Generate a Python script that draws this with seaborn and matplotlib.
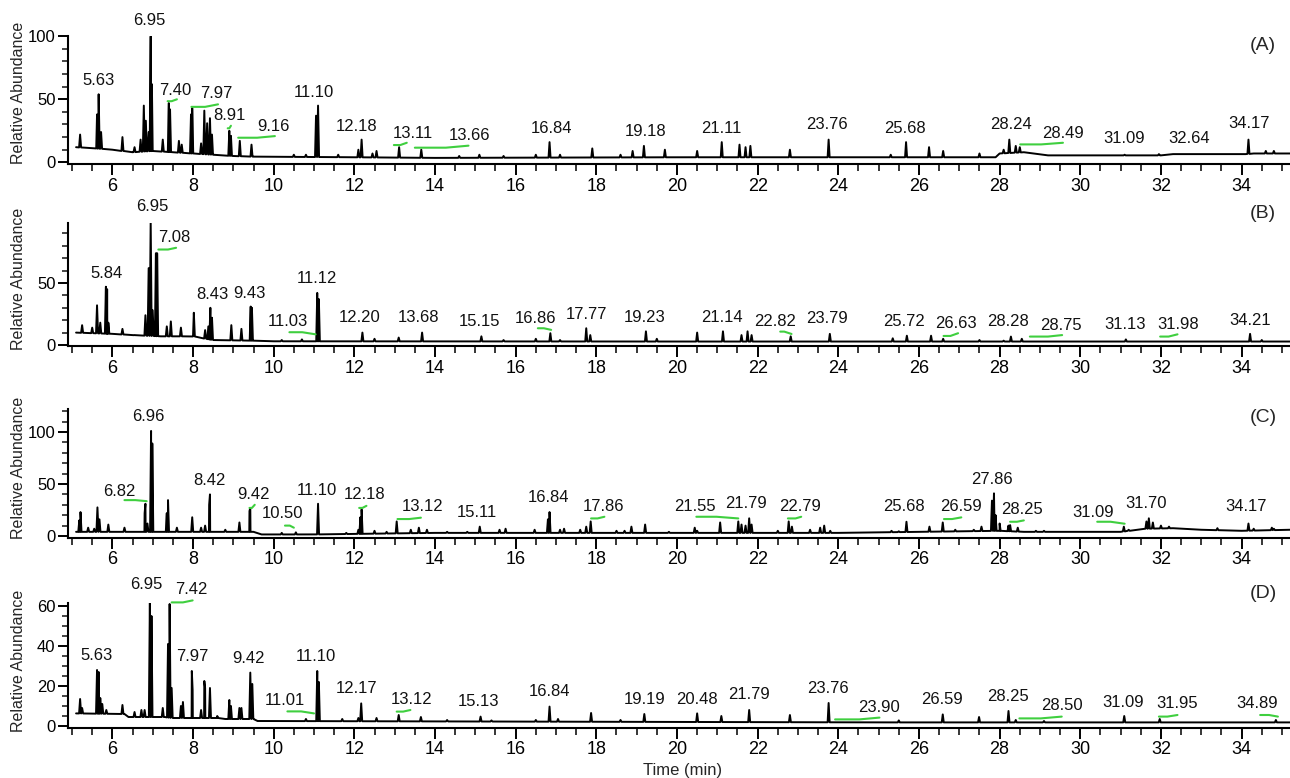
import numpy as np
import pandas as pd
import seaborn as sns
import matplotlib.pyplot as plt
from matplotlib.ticker import MultipleLocator

sns.set_theme(style="ticks")
plt.rcParams['font.family'] = ['Liberation Sans', 'DejaVu Sans']

# ---------------- (A) ----------------
a_base_t = [5.1, 5.6, 6.0, 6.5, 7.0, 7.5, 8.5, 9.0, 9.5, 12.0, 14.0, 20.0, 24.0, 27.9, 28.0, 28.6, 29.2, 32.0, 32.3, 34.1, 34.3, 35.2]
a_base_y = [12, 11, 10, 8, 9, 8, 6, 5, 4.5, 4, 3.5, 4, 4, 4, 7, 8, 5.5, 5.5, 6.5, 6.5, 7, 7]
a_peak_t = [5.2, 5.62, 5.66, 5.72, 6.25, 6.55, 6.7, 6.78, 6.83, 6.9, 6.95, 6.98, 7.25, 7.40, 7.43,
            7.65, 7.72, 7.95, 7.98, 8.2, 8.28, 8.35, 8.42, 8.47, 8.90, 8.94, 9.16, 9.45, 10.5, 10.8,
            11.05, 11.10, 11.6, 12.1, 12.18, 12.45, 12.55, 13.11, 13.66, 14.6, 15.1, 15.7, 16.5, 16.84,
            17.1, 17.9, 18.6, 18.9, 19.18, 19.7, 20.5, 21.11, 21.55, 21.7, 21.82, 22.8, 23.76, 25.3,
            25.68, 26.25, 26.6, 27.5, 28.1, 28.24, 28.4, 28.5, 31.1, 31.95, 34.17, 34.6, 34.8]
a_peak_h = [22, 38, 54, 24, 20, 12, 18, 45, 33, 24, 100, 62, 18, 47, 42,
            17, 14, 38, 43, 15, 41, 31, 35, 22, 25, 21, 17, 14, 6, 6,
            37, 45, 6, 10, 18, 7, 9, 12, 10, 5, 6, 5, 6, 16,
            6, 11, 6, 9, 13, 10, 9, 16, 14, 12, 13, 10, 18, 6,
            16, 12, 9, 7, 10, 18, 13, 12, 6, 6.5, 18, 9, 9]
a_labels = ['5.63', '6.95', '7.40', '7.97', '8.91', '9.16', '11.10', '12.18', '13.11', '13.66', '16.84',
            '19.18', '21.11', '23.76', '25.68', '28.24', '28.49', '31.09', '32.64', '34.17']
a_lab_x = [5.65, 6.91, 7.57, 8.58, 8.9, 9.99, 11.0, 12.06, 13.44, 14.86, 16.88,
           19.22, 21.11, 23.73, 25.65, 28.28, 29.57, 31.08, 32.69, 34.19]
a_lab_y = [58, 106, 50.5, 48, 30, 21.6, 49, 21.6, 16.3, 14.5, 20,
           18, 20, 23, 20, 23, 16.3, 12, 12, 24]
a_green = [(7.37, 7.47, 7.6, 48.5, 50), (7.96, 8.3, 8.62, 44, 46), (8.86, 8.9, 8.94, 27, 29),
           (9.12, 9.59, 10.03, 19.5, 20.8), (12.98, 13.14, 13.3, 13.7, 15.5),
           (13.5, 14.27, 14.83, 11.6, 13.2), (28.51, 29.03, 29.57, 14.2, 15.5)]

# ---------------- (B) ----------------
b_base_t = [5.1, 6.0, 6.5, 7.2, 8.0, 8.5, 9.5, 10.0, 20.0, 35.2]
b_base_y = [10, 9, 8, 7, 7, 4, 3.5, 3, 2.8, 2.8]
b_peak_t = [5.25, 5.5, 5.62, 5.7, 5.84, 5.87, 5.9, 6.25, 6.55, 6.82, 6.9, 6.95, 7.0, 7.08, 7.11,
            7.35, 7.45, 7.7, 8.02, 8.3, 8.38, 8.43, 8.47, 8.95, 9.2, 9.43, 9.46, 10.2, 10.7, 11.08,
            11.12, 12.2, 12.5, 13.1, 13.68, 15.15, 15.7, 16.5, 16.86, 17.1, 17.75, 17.85, 19.23, 19.5,
            20.5, 21.14, 21.6, 21.75, 21.85, 22.82, 23.79, 25.35, 25.7, 26.3, 26.6, 27.5, 28.1, 28.28,
            28.55, 31.13, 34.21, 34.5]
b_peak_h = [16, 14, 32, 18, 47, 45, 18, 13, 8, 24, 62, 100, 28, 74, 74,
            15, 19, 14, 26, 12, 15, 30, 22, 16, 13, 31, 30, 4, 4.5, 42,
            37, 10, 5, 6, 10, 7, 4, 5, 9.5, 4, 13.5, 8, 11, 5,
            10, 11, 8, 11, 8, 7, 9, 5.4, 7.5, 7.5, 5, 4, 3.5, 6.8,
            5, 4.5, 9, 4]
b_labels = ['5.84', '6.95', '7.08', '8.43', '9.43', '11.03', '11.12', '12.20', '13.68', '15.15', '16.86',
            '17.77', '19.23', '21.14', '22.82', '23.79', '25.72', '26.63', '28.28', '28.75', '31.13',
            '31.98', '34.21']
b_lab_x = [5.86, 6.98, 7.53, 8.48, 9.39, 10.34, 11.08, 12.12, 13.6, 15.1, 16.49,
           17.75, 19.21, 21.12, 22.43, 23.73, 25.63, 26.92, 28.21, 29.51, 31.1,
           32.43, 34.2]
b_lab_y = [51, 105, 80, 34, 34.6, 12, 47, 15.4, 15.4, 12, 14.3,
           17.6, 15.4, 15.4, 12, 14.3, 12, 10.8, 12, 9, 9.5,
           9.5, 12.7]
b_green = [(7.14, 7.38, 7.58, 77, 78.4), (10.39, 10.71, 11.04, 10.3, 8.6),
           (16.55, 16.7, 16.88, 13.5, 12.2), (22.56, 22.66, 22.84, 10.8, 8.9),
           (26.61, 26.78, 26.97, 7.3, 9.5), (28.75, 29.2, 29.55, 6.8, 8),
           (31.98, 32.19, 32.41, 6.8, 8.6)]

# ---------------- (C) ----------------
c_base_t = [5.1, 9.5, 9.7, 11.0, 12.0, 14.0, 24.0, 28.0, 28.6, 31.0, 31.6, 32.3, 33.0, 34.0, 35.2]
c_base_y = [4, 4, 1.5, 1.5, 2, 3, 3, 5, 4, 4, 7, 7.5, 6, 5, 6]
c_peak_t = [5.18, 5.21, 5.4, 5.55, 5.63, 5.68, 5.9, 6.3, 6.8, 6.82, 6.87, 6.96, 6.99, 7.35, 7.38,
            7.6, 7.98, 8.2, 8.3, 8.4, 8.42, 8.8, 9.15, 9.4, 9.42, 10.2, 10.55, 11.10, 11.8, 12.1,
            12.15, 12.18, 12.5, 12.8, 13.05, 13.4, 13.6, 13.8, 14.3, 14.8, 15.11, 15.6, 15.75, 16.47,
            16.8, 16.84, 17.1, 17.2, 17.6, 17.75, 17.86, 18.5, 18.7, 18.87, 19.21, 19.8, 20.44, 20.5,
            21.07, 21.52, 21.6, 21.7, 21.79, 21.85, 22.5, 22.77, 22.85, 23.3, 23.55, 23.65, 23.8,
            25.32, 25.5, 25.69, 26.26, 26.59, 26.9, 27.36, 27.55, 27.81, 27.86, 27.9, 28.0, 28.22,
            28.26, 28.45, 28.9, 29.1, 31.08, 31.2, 31.64, 31.7, 31.8, 32.0, 32.2, 33.4, 34.17, 34.3,
            34.75, 34.8]
c_peak_h = [15, 23, 8, 7, 27.5, 16, 11, 8, 22, 31, 12, 101, 89, 22, 34.5,
            8, 18, 8, 10, 30, 40, 6, 13, 24, 27, 3, 3.5, 31, 3, 6,
            18, 25.5, 5, 4, 14, 6, 8, 6, 4, 4, 9, 6, 7, 6,
            16, 23, 6, 7, 6, 9, 14, 5, 5, 9, 11, 4, 8, 5,
            13, 14, 11, 10, 17, 11, 5, 14, 9, 6, 8, 10, 5,
            5, 4.5, 13.7, 9, 13, 6, 6, 9, 34, 41, 20, 12, 10,
            10.5, 8, 5, 5, 9, 6, 14, 17, 13, 10, 9, 7.5, 12, 7,
            8, 7]
c_labels = ['6.82', '6.96', '8.42', '9.42', '10.50', '11.10', '12.18', '13.12', '15.11', '16.84', '17.86',
            '21.55', '21.79', '22.79', '25.68', '26.59', '27.86', '28.25', '31.09', '31.70', '34.17']
c_lab_x = [6.18, 6.89, 8.41, 9.5, 10.22, 11.07, 12.25, 13.68, 15.05, 16.81, 18.18,
           20.44, 21.71, 23.06, 25.63, 27.03, 27.81, 28.55, 30.32, 31.64, 34.1]
c_lab_y = [35, 107, 45, 32, 13, 35.5, 32, 20, 14.7, 29, 20,
           20, 22.7, 20, 20, 20, 46, 17, 14.7, 22.7, 20]
c_green = [(6.3, 6.57, 6.85, 34.5, 33.5), (9.4, 9.46, 9.53, 27, 30), (10.28, 10.4, 10.5, 10, 8),
           (12.12, 12.2, 12.3, 27, 29), (13.07, 13.36, 13.65, 16.3, 17.6),
           (17.87, 18.03, 18.2, 16.9, 18.5), (20.48, 20.98, 21.52, 18.5, 16.9),
           (22.75, 22.94, 23.08, 16.9, 18.5), (26.62, 26.82, 27.05, 16.3, 17.9),
           (28.26, 28.43, 28.6, 13.7, 15), (30.42, 30.75, 31.1, 13.7, 11.8)]

# ---------------- (D) ----------------
d_base_t = [5.1, 6.3, 6.4, 7.3, 7.5, 8.6, 8.8, 9.5, 9.6, 14.0, 25.0, 35.2]
d_base_y = [6.3, 6.0, 4.5, 4.5, 4, 4, 3.5, 3.5, 2.5, 2.3, 1.8, 1.8]
d_peak_t = [5.2, 5.25, 5.62, 5.66, 5.7, 5.75, 5.85, 6.25, 6.55, 6.72, 6.8, 6.93, 6.97, 7.25, 7.38,
            7.42, 7.47, 7.7, 7.75, 7.97, 7.99, 8.2, 8.28, 8.3, 8.42, 8.6, 8.9, 8.94, 9.15, 9.2,
            9.42, 9.47, 10.8, 11.08, 11.12, 11.7, 12.1, 12.17, 12.55, 13.1, 13.65, 14.3, 15.13, 15.4,
            16.5, 16.84, 17.05, 17.87, 18.6, 19.19, 20.5, 21.1, 21.79, 22.8, 23.76, 25.5, 26.59,
            27.49, 28.22, 28.4, 29.1, 31.09, 31.97, 34.85]
d_peak_h = [13.5, 9, 28, 27, 14, 11, 8, 10.5, 7, 8, 8, 63, 55, 9, 41,
            61, 19, 10, 12, 27.5, 18, 8, 22.5, 19, 19, 5, 13, 10, 9, 9,
            26.7, 21, 3.5, 27.5, 22, 3.5, 4, 11.3, 4, 5.5, 4.5, 3, 4.7, 2.8,
            3, 9.7, 3.5, 6.5, 3, 6, 6.3, 5, 8, 5.5, 11.5, 2.8, 5.8,
            4.5, 7.5, 3, 2.5, 5, 3.5, 3]
d_labels = ['5.63', '6.95', '7.42', '7.97', '9.42', '11.01', '11.10', '12.17', '13.12', '15.13', '16.84',
            '19.19', '20.48', '21.79', '23.76', '23.90', '26.59', '28.25', '28.50', '31.09', '31.95', '34.89']
d_lab_x = [5.6, 6.83, 7.95, 7.97, 9.37, 10.28, 11.04, 12.05, 13.41, 15.09, 16.84,
           19.19, 20.49, 21.79, 23.75, 25.0, 26.56, 28.22, 29.54, 31.07, 32.41, 34.39]
d_lab_y = [31, 66.7, 64, 30.5, 29.7, 8.5, 30.5, 14.7, 9.2, 8, 13,
           8.8, 8.8, 11.3, 14.7, 5.2, 8.8, 10.5, 6, 7.5, 6.8, 6.8]
d_green = [(7.47, 7.75, 7.99, 61.8, 62.8), (10.34, 10.68, 11.0, 7.3, 6.3), (13.05, 13.21, 13.39, 7.2, 8),
           (23.92, 24.52, 25.02, 3.3, 4.2), (28.49, 29.02, 29.54, 3.8, 4.7),
           (31.95, 32.16, 32.41, 4.7, 5.5), (34.46, 34.68, 34.9, 5.5, 4.7)]

x_ticks = list(range(6, 35, 2))
W, H = 1290, 778
GREEN = '#3fcf3f'


def make_trace(base_t, base_y, peak_t, peak_h, hw=0.025):
    pts = list(zip(base_t, base_y))
    for t, h in zip(peak_t, peak_h):
        foot = np.interp(t, base_t, base_y)
        pts += [(t - hw, foot), (t, h), (t + hw, foot)]
    return pd.DataFrame(sorted(pts), columns=['t', 'y'])


panels = [
    # name, data..., y0 px, px per unit, top value, major y ticks, minor step, ylabel centre px, name y px
    ('(A)', a_base_t, a_base_y, a_peak_t, a_peak_h, a_labels, a_lab_x, a_lab_y, a_green,
     162.3, 1.26, 100, [0, 50, 100], 10, 93, 45),
    ('(B)', b_base_t, b_base_y, b_peak_t, b_peak_h, b_labels, b_lab_x, b_lab_y, b_green,
     345, 1.24, 98, [0, 50], 10, 279, 213),
    ('(C)', c_base_t, c_base_y, c_peak_t, c_peak_h, c_labels, c_lab_x, c_lab_y, c_green,
     536, 1.04, 122, [0, 50, 100], 10, 468, 418),
    ('(D)', d_base_t, d_base_y, d_peak_t, d_peak_h, d_labels, d_lab_x, d_lab_y, d_green,
     726, 2.0, 61.5, [0, 20, 40, 60], 5, 661, 594),
]

fig = plt.figure(figsize=(W / 100, H / 100), dpi=100)

for (name, bt, by, pt, ph, labs, lx, ly, green, y0, pxu, ytop, yt, ystep, ylab_c, name_y) in panels:
    bottom_px = y0 + 1.5
    top_px = y0 - ytop * pxu
    ax = fig.add_axes([68 / W, 1 - bottom_px / H, (W - 68) / W, (bottom_px - top_px) / H])
    ax.set_facecolor('none')

    df = make_trace(bt, by, pt, ph)
    sns.lineplot(data=df, x='t', y='y', ax=ax, color='black', linewidth=1.4,
                 estimator=None, sort=False)

    for xs, xm, xe, yl, yr in green:
        ax.plot([xs, xm, xe], [yl, yl, yr], color=GREEN, lw=1.5, clip_on=False)
    for s, x, y in zip(labs, lx, ly):
        ax.text(x, y + 1.0 / pxu, s, ha='center', va='bottom', fontsize=12, color='#111111')

    ax.set_xlim(4.9, 35.2)
    ax.set_ylim(-1.5 / pxu, ytop)
    ax.set_xticks(x_ticks)
    ax.xaxis.set_minor_locator(MultipleLocator(0.5))
    ax.set_yticks(yt)
    ax.yaxis.set_minor_locator(MultipleLocator(ystep))
    ax.tick_params(axis='both', which='major', direction='out', width=1.4, colors='black', pad=2)
    ax.tick_params(axis='x', which='major', length=8, labelsize=13)
    ax.tick_params(axis='y', which='major', length=7, labelsize=12)
    ax.tick_params(axis='x', which='minor', length=5, width=1.3)
    ax.tick_params(axis='y', which='minor', length=4, width=1.2)
    ax.set_xlabel('')
    ax.set_ylabel('')
    for sp in ['top', 'right']:
        ax.spines[sp].set_visible(False)
    for sp in ['left', 'bottom']:
        ax.spines[sp].set_linewidth(1.5)
        ax.spines[sp].set_color('black')

    fig.text(19 / W, 1 - ylab_c / H, 'Relative Abundance', rotation=90, ha='center', va='center',
             fontsize=11.5)
    fig.text(1263 / W, 1 - name_y / H, name, ha='center', va='center', fontsize=14)

fig.text(683 / W, 1 - 770 / H, 'Time (min)', ha='center', va='center', fontsize=12)

fig.savefig('out.png', dpi=100, facecolor='white')
